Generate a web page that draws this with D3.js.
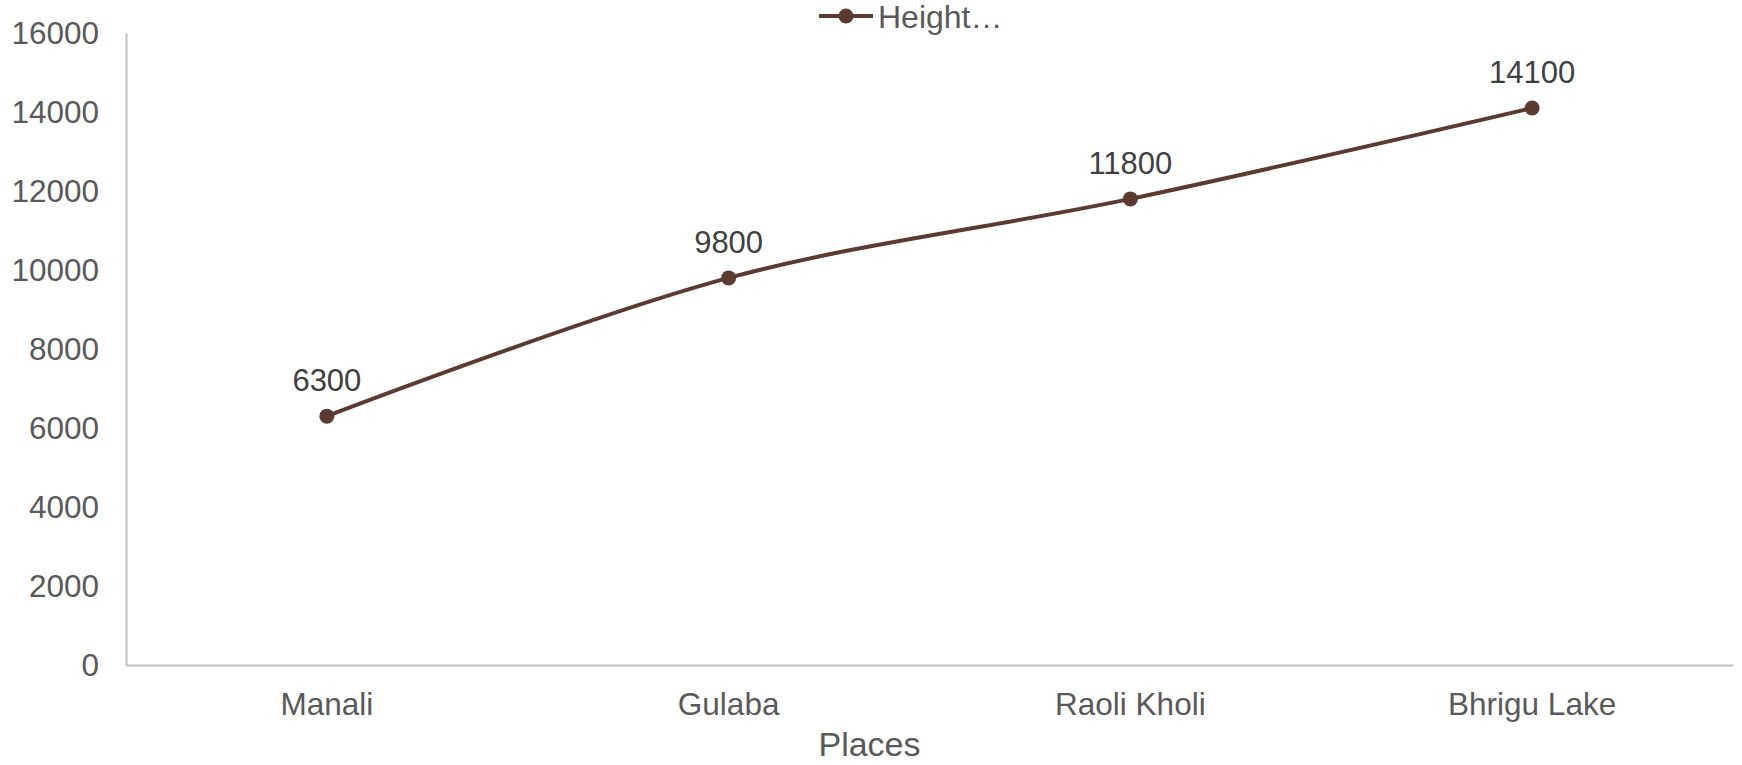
<!DOCTYPE html>
<html>
<head>
<meta charset="utf-8">
<script src="https://cdn.jsdelivr.net/npm/d3@7"></script>
<style>
  body { margin: 0; background: #ffffff; }
  text { font-family: "Liberation Sans", Arial, sans-serif; }
</style>
</head>
<body>
<div id="chart"></div>
<script>
// Colours.
const lineColor = "#5b3b31";
const tickColor = "#595959";
const labelColor = "#404040";
const axisColor = "#bfbfbf";

// Data.
const places = ["Manali", "Gulaba", "Raoli Kholi", "Bhrigu Lake"];
const heights = [6300, 9800, 11800, 14100];
const yTicks = [0, 2000, 4000, 6000, 8000, 10000, 12000, 14000, 16000];
const seriesName = "Height…";
const xTitle = "Places";

const W = 1742, H = 765;
const margin = {top: 33, right: 9, bottom: 100, left: 126};
const width = W - margin.left - margin.right,
      height = H - margin.top - margin.bottom;

const svg = d3.select("#chart")
  .append("svg")
    .attr("width", W)
    .attr("height", H);

const g = svg.append("g")
  .attr("transform", "translate(" + margin.left + "," + margin.top + ")");

const x = d3.scaleBand()
  .domain(places)
  .range([0, width]);

const y = d3.scaleLinear()
  .domain([0, 16000])
  .range([height, 0]);

// Y axis.
g.append("g")
  .call(d3.axisLeft(y).tickValues(yTicks).tickSize(0).tickPadding(27).tickFormat(d3.format("d")))
  .call(a => a.select(".domain").attr("stroke", axisColor).attr("stroke-width", 2))
  .call(a => a.selectAll("text")
    .attr("fill", tickColor)
    .style("font-size", "31.5px")
    .style("font-family", "'Liberation Sans', Arial, sans-serif"));

// X axis.
g.append("g")
  .attr("transform", "translate(0," + height + ")")
  .call(d3.axisBottom(x).tickSize(0).tickPadding(28))
  .call(a => a.select(".domain").attr("stroke", axisColor).attr("stroke-width", 2))
  .call(a => a.selectAll("text")
    .attr("fill", tickColor)
    .style("font-size", "31.5px")
    .style("font-family", "'Liberation Sans', Arial, sans-serif"));

// X axis title.
g.append("text")
  .attr("x", width / 2 - 60)
  .attr("y", height + 91)
  .attr("text-anchor", "middle")
  .attr("fill", tickColor)
  .style("font-size", "34px")
  .text(xTitle);

const cx = (d, i) => x(places[i]) + x.bandwidth() / 2;

// The line.
g.append("path")
  .datum(heights)
  .attr("d", d3.line()
    .x(cx)
    .y(d => y(d))
    .curve(d3.curveCatmullRom.alpha(0.5)))
  .attr("fill", "none")
  .attr("stroke", lineColor)
  .attr("stroke-width", 4);

// Markers.
g.selectAll("circle.pt")
  .data(heights)
  .join("circle")
    .attr("class", "pt")
    .attr("cx", cx)
    .attr("cy", d => y(d))
    .attr("r", 7.5)
    .attr("fill", lineColor);

// Data labels.
g.selectAll("text.lbl")
  .data(heights)
  .join("text")
    .attr("class", "lbl")
    .attr("x", cx)
    .attr("y", d => y(d) - 25)
    .attr("text-anchor", "middle")
    .attr("fill", labelColor)
    .style("font-size", "31px")
    .text(d => d);

// Legend.
const leg = svg.append("g").attr("transform", "translate(819,16)");
leg.append("line")
  .attr("x1", 0).attr("x2", 54)
  .attr("stroke", lineColor)
  .attr("stroke-width", 4);
leg.append("circle")
  .attr("cx", 27)
  .attr("r", 7.5)
  .attr("fill", lineColor);
leg.append("text")
  .attr("x", 59)
  .attr("dy", "0.36em")
  .attr("fill", tickColor)
  .style("font-size", "32px")
  .text(seriesName);
</script>
</body>
</html>
